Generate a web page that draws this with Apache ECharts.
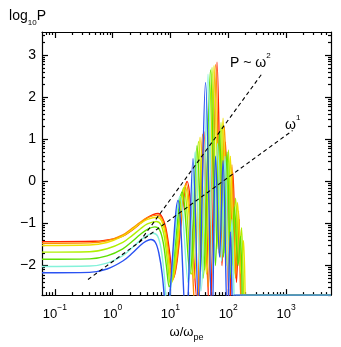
<!DOCTYPE html>
<html style="height: 100%">
<head>
    <meta charset="utf-8">
</head>
<body style="height: 100%; margin: 0; background: #fff">
    <div id="container" style="width: 341px; height: 347px"></div>
    <script src="https://cdn.jsdelivr.net/npm/echarts@6/dist/echarts.min.js"></script>
    <script type="text/javascript">
        // log10 P against omega / omega_pe, one array per run (red .. blue)
        var powerRed = [[0.06, -1.43], [0.5, -1.42], [1, -1.37], [1.5, -1.3], [2.2, -1.15], [3, -1.0], [4, -0.86], [5, -0.79], [6.1, -0.76], [7.2, -0.85], [8.3, -1.1], [9.5, -1.6], [10.5, -2.1], [11.1, -2.3],
            [19.4, 0.0], [28.8, -2.8], [38.1, 1.18], [47.5, -3.4], [64, 2.83], [78.1, -2.0], [89.8, 0.94], [105, -3.4], [121, 0.2], [139, -2.4], [154, -0.9], [170, -3.4], [175, -2.7], [6000, -2.7]];
        var powerOrange = [[0.06, -1.47], [0.4, -1.46], [0.8, -1.41], [1.5, -1.27], [2.2, -1.11], [3, -0.97], [4, -0.86], [6, -0.8], [7.1, -0.88], [8.2, -1.15], [9.3, -1.7], [10.8, -2.35],
            [18.6, -0.05], [27.7, -3.4], [36, 1.12], [44.7, -2.5], [60.3, 2.78], [73.6, -1.8], [86, 1.3], [101, -2.2], [116, 0.4], [134, -2.3], [151, -0.7], [170, -3.4], [175, -2.7], [6000, -2.7]];
        var powerYellow = [[0.06, -1.52], [0.4, -1.51], [0.8, -1.45], [1.5, -1.3], [2.2, -1.14], [3, -1.0], [4, -0.9], [5.9, -0.85], [7, -0.93], [8, -1.2], [9, -1.7], [10.4, -2.4],
            [17.9, -0.1], [25.6, -2.3], [32.5, 1.05], [42.1, -2.2], [56.8, 2.75], [69.3, -1.7], [81.3, 1.5], [95.3, -2.0], [109, 0.6], [126, -2.2], [145, -0.5], [167, -2.2], [184, -1.4], [203, -3.4], [209, -2.7], [6000, -2.7]];
        var powerLime = [[0.06, -1.68], [0.4, -1.67], [0.8, -1.6], [1.5, -1.45], [2.2, -1.28], [3, -1.13], [4, -1.01], [5.7, -0.95], [6.8, -1.02], [7.8, -1.3], [8.8, -1.85], [10, -2.45],
            [17, -0.15], [23.2, -2.2], [30.6, 0.95], [38.9, -2.1], [52.5, 2.7], [64, -1.6], [75.1, 1.4], [88, -1.7], [101, 0.75], [116, -2.0], [134, -0.4], [154, -1.9], [170, -1.1], [191, -3.4], [197, -2.7], [6000, -2.7]];
        var powerGreen = [[0.06, -1.85], [0.4, -1.84], [0.8, -1.77], [1.5, -1.6], [2.2, -1.42], [3, -1.26], [4, -1.14], [5.4, -1.08], [6.5, -1.15], [7.5, -1.45], [8.5, -2.0], [9.5, -2.5],
            [15.9, -0.25], [21.8, -2.2], [28.8, 0.85], [36.6, -2.3], [49.4, 2.65], [60.3, -2.0], [70.7, 1.2], [82.9, -1.8], [95.3, 0.7], [112, -2.3], [128, -0.6], [148, -2.0], [163, -1.3], [180, -3.4], [186, -2.7], [6000, -2.7]];
        var powerCyan = [[0.06, -2.02], [0.4, -2.01], [0.8, -1.94], [1.5, -1.76], [2.2, -1.57], [3, -1.4], [4, -1.28], [5, -1.23], [6, -1.3], [6.9, -1.6], [7.8, -2.2], [8.8, -3.0],
            [14.7, -0.35], [20.2, -2.4], [26.7, 0.7], [33.8, -2.6], [44.7, 2.55], [54.6, -2.2], [65.3, 0.9], [76.6, -1.9], [88, 0.6], [103, -2.4], [116, -0.9], [131, -3.4], [136, -2.7], [6000, -2.7]];
        var powerBlue = [[0.06, -2.17], [0.4, -2.16], [0.8, -2.08], [1.5, -1.89], [2.2, -1.7], [3, -1.52], [3.8, -1.42], [4.6, -1.38], [5.5, -1.45], [6.3, -1.7], [7.2, -2.2], [8.0, -2.9], [8.4, -3.4],
            [13.5, -0.45], [18.6, -3.4], [24.6, 0.54], [30.6, -3.0], [40.5, 2.35], [52.5, -3.4], [60.3, 0.6], [70.7, -1.8], [81.3, 0.5], [97, -3.4], [109, -1.2], [121, -3.4], [125, -2.7], [6000, -2.7]];

        // reference slopes
        var slopeTwo = [[2.9, -1.44], [384, 2.56]];
        var slopeOne = [[0.375, -2.33], [1300, 1.21]];

        var xMajor = [0.1, 1, 10, 100, 1000];
        var yMajor = [-2, -1, 0, 1, 2, 3];
        var colors = ['#ff2200', '#ff8c00', '#eee000', '#b0f000', '#5ee000', '#84f2da', '#2a52f2'];

        var xMin = 0.06, xMax = 6000, yMin = -2.7, yMax = 3.55;

        var xMinor = [];
        for (var d = -2; d <= 3; d++) {
            for (var k = 2; k <= 9; k++) {
                var v = k * Math.pow(10, d);
                if (v > xMin && v < xMax) xMinor.push(v);
            }
        }
        var yMinor = [];
        for (var n = -3; n <= 3; n++) {
            for (var k = 2; k <= 9; k++) {
                var w = n + Math.log10(k);
                if (w > yMin && w < yMax) yMinor.push(w);
            }
        }

        var font = 'Liberation Sans, Arial, sans-serif';
        var black = { color: '#000', width: 1.2 };

        function xLabel(val) {
            var e = Math.round(Math.log10(val));
            return '{b|10}{s|' + (e < 0 ? '\u2212' + (-e) : e) + '}';
        }

        function xAxisPart(pos, ticks, len, withLabels) {
            return {
                type: 'log', logBase: 10, min: xMin, max: xMax, position: pos,
                axisLine: { show: withLabels, onZero: false, lineStyle: black },
                axisTick: { show: true, inside: true, length: len, customValues: ticks, lineStyle: black },
                axisLabel: withLabels && pos === 'bottom' ? {
                    customValues: xMajor, formatter: xLabel, margin: 8, color: '#000',
                    rich: {
                        b: { fontSize: 13, fontFamily: font, color: '#000', lineHeight: 18, verticalAlign: 'bottom' },
                        s: { fontSize: 8.5, fontFamily: font, color: '#000', lineHeight: 18, verticalAlign: 'top' }
                    }
                } : { show: false },
                splitLine: { show: false },
                minorTick: { show: false }
            };
        }

        function yAxisPart(pos, ticks, len, withLabels) {
            return {
                type: 'value', min: yMin, max: yMax, position: pos,
                axisLine: { show: withLabels, onZero: false, lineStyle: black },
                axisTick: { show: true, inside: true, length: len, customValues: ticks, lineStyle: black },
                axisLabel: withLabels && pos === 'left' ? {
                    customValues: yMajor, margin: 6, color: '#000', fontSize: 14, fontFamily: font,
                    formatter: function (v) { return v < 0 ? '\u2212' + (-v) : String(v); }
                } : { show: false },
                splitLine: { show: false },
                minorTick: { show: false }
            };
        }

        var bottomAxis = xAxisPart('bottom', xMajor, 6, true);
        bottomAxis.name = '{a|\u03c9/\u03c9}{sub|pe}';
        bottomAxis.nameLocation = 'middle';
        bottomAxis.nameGap = 26;
        bottomAxis.nameTextStyle = {
            rich: {
                a: { fontSize: 13, fontFamily: font, color: '#000', lineHeight: 16, verticalAlign: 'top' },
                sub: { fontSize: 9, fontFamily: font, color: '#000', lineHeight: 16, verticalAlign: 'bottom' }
            }
        };
        var leftAxis = yAxisPart('left', yMajor, 6, true);
        leftAxis.name = '{a|log}{sub|10}{a|P}';
        leftAxis.nameLocation = 'end';
        leftAxis.nameGap = 5;
        leftAxis.nameTextStyle = {
            align: 'right', padding: [0, -4, 0, 0],
            rich: {
                a: { fontSize: 14, fontFamily: font, color: '#000', lineHeight: 18, verticalAlign: 'top' },
                sub: { fontSize: 8, fontFamily: font, color: '#000', lineHeight: 18, verticalAlign: 'bottom' }
            }
        };

        var runs = [powerRed, powerOrange, powerYellow, powerLime, powerGreen, powerCyan, powerBlue];
        var series = runs.map(function (run, i) {
            return {
                type: 'line', data: run, showSymbol: false, smooth: 0.35, clip: true,
                lineStyle: { color: colors[i], width: 1.4 }, z: 2 + i
            };
        });
        [slopeTwo, slopeOne].forEach(function (line) {
            series.push({
                type: 'line', data: line, showSymbol: false, clip: true, z: 20,
                lineStyle: { color: '#000', width: 1.1, type: [4, 3] }
            });
        });

        var myChart = echarts.init(document.getElementById('container'));
        var option = {
            animation: false,
            backgroundColor: '#fff',
            grid: { left: 42, right: 10, top: 32, bottom: 45 },
            xAxis: [
                bottomAxis,
                xAxisPart('bottom', xMinor, 3, false),
                xAxisPart('top', xMajor, 6, true),
                xAxisPart('top', xMinor, 3, false)
            ],
            yAxis: [
                leftAxis,
                yAxisPart('left', yMinor, 3, false),
                yAxisPart('right', yMajor, 6, true),
                yAxisPart('right', yMinor, 3, false)
            ],
            graphic: [
                {
                    type: 'text', left: 230, top: 52,
                    style: {
                        text: '{a|P ~ \u03c9}{s|2}',
                        rich: {
                            a: { fontSize: 14, fontFamily: font, fill: '#000', lineHeight: 18, verticalAlign: 'bottom' },
                            s: { fontSize: 8, fontFamily: font, fill: '#000', lineHeight: 18, verticalAlign: 'top' }
                        }
                    }
                },
                {
                    type: 'text', left: 285, top: 114,
                    style: {
                        text: '{a|\u03c9}{s|1}',
                        rich: {
                            a: { fontSize: 14, fontFamily: font, fill: '#000', lineHeight: 18, verticalAlign: 'bottom' },
                            s: { fontSize: 8, fontFamily: font, fill: '#000', lineHeight: 18, verticalAlign: 'top' }
                        }
                    }
                }
            ],
            series: series
        };
        myChart.setOption(option);
    </script>
</body>
</html>
